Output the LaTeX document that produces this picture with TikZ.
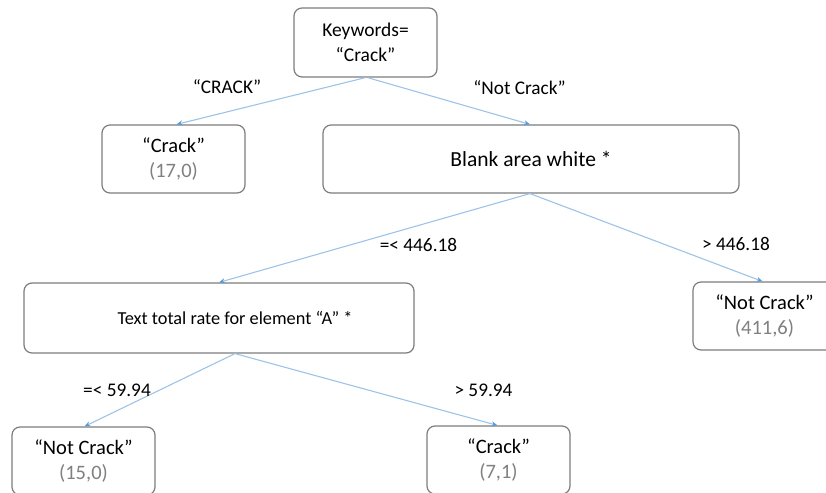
\documentclass[tikz,border=0pt]{standalone}
\usepackage{fontspec}
\setmainfont{Carlito}
\usetikzlibrary{arrows.meta}
\definecolor{edgeblue}{RGB}{157,195,230}
\definecolor{tipblue}{RGB}{91,155,213}
\definecolor{boxgray}{RGB}{125,125,125}
\definecolor{numgray}{RGB}{128,128,128}
\tikzset{
  box/.style={draw=boxgray, line width=1.2pt, rounded corners=8pt, fill=white,
    align=center, font=\fontsize{20.5}{25}\selectfont, inner sep=0pt},
  edge/.style={draw=edgeblue, line width=1.1pt, -{Stealth[length=6pt,width=5pt,color=tipblue]}},
  lbl/.style={font=\fontsize{19.3}{23}\selectfont, inner sep=0pt}
}
\newcommand{\cnt}[1]{\textcolor{numgray}{#1}}
\begin{document}
\begin{tikzpicture}[x=1pt,y=-1pt]
\useasboundingbox (0,0) rectangle (826,492);
\begin{scope}
\clip (0,0) rectangle (826,492);
\node[box, minimum width=143pt, minimum height=69pt, font=\fontsize{19.5}{25}\selectfont] (root) at (365.5,42.5) {Keywords=\\``Crack''};
\node[box, minimum width=143pt, minimum height=68pt] (crack) at (173.5,159) {``Crack''\\\cnt{(17,0)}};
\node[box, minimum width=416pt, minimum height=68pt, font=\fontsize{21.5}{25}\selectfont] (blank) at (531,159) {Blank area white *};
\node[box, minimum width=390pt, minimum height=70pt, font=\fontsize{18.3}{22}\selectfont] (text) at (219,318) {\hspace*{32pt}Text total rate for element ``A'' *};
\node[box, minimum width=143pt, minimum height=68pt] (nc1) at (764.5,316) {``Not Crack''\\\cnt{(411,6)}};
\node[box, minimum width=143pt, minimum height=68pt] (nc2) at (83.5,461) {``Not Crack''\\\cnt{(15,0)}};
\node[box, minimum width=143pt, minimum height=68pt] (crack2) at (498.5,460) {``Crack''\\\cnt{(7,1)}};
\end{scope}

\draw[edge] (root.south) -- ([xshift=3pt]crack.north);
\draw[edge] ([xshift=2pt]root.south) -- ([xshift=-1pt]blank.north);
\draw[edge] ([xshift=-1pt]blank.south) -- (text.north);
\draw[edge] ([xshift=-1pt]blank.south) -- ([xshift=-2pt]nc1.north);
\draw[edge] ([xshift=16pt]text.south) -- ([xshift=1pt]nc2.north);
\draw[edge] ([xshift=16pt]text.south) -- ([xshift=-1pt]crack2.north);

\node[lbl] (l1) at (227,87) {``CRACK''};
\node[lbl] (l2) at (519.5,88) {``Not Crack''};
\node[lbl] (l3) at (418.5,245) {=< 446.18};
\node[lbl] (l4) at (736,244) {> 446.18};
\node[lbl] (l5) at (117,390) {=< 59.94};
\node[lbl] (l6) at (483.5,390) {> 59.94};
\end{tikzpicture}
\end{document}
